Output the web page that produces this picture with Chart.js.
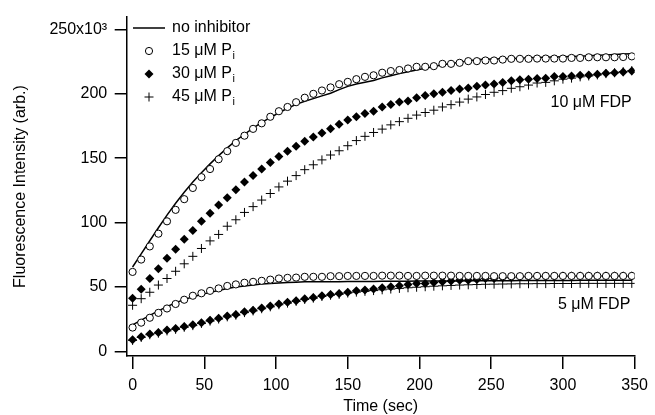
<!DOCTYPE html>
<html>
<head>
<meta charset="utf-8">
<script src="https://cdn.jsdelivr.net/npm/chart.js@4/dist/chart.umd.min.js"></script>
<style>
  body { margin: 0; background: #fff; }
  #wrap { width: 655px; height: 415px; }
</style>
</head>
<body>
<div id="wrap"><canvas id="chart" width="655" height="415"></canvas></div>
<script>
"use strict";

// time points (sec)
var times = [0, 6, 12, 18, 24, 30, 36, 42, 48, 54, 60, 66, 72, 78, 84, 90, 96, 102, 108, 114,
    120, 126, 132, 138, 144, 150, 156, 162, 168, 174, 180, 186, 192, 198, 204, 210, 216, 222, 228, 234,
    240, 246, 252, 258, 264, 270, 276, 282, 288, 294, 300, 306, 312, 318, 324, 330, 336, 342, 348];

// 10 uM FDP (x10^3)
var noInhib10 = [65.5, 75.7, 85.9, 96, 105.8, 115, 123.5, 131.5, 138.8, 145.6, 152, 158, 163.6, 168.6, 173.4,
    177.8, 181.6, 185.3, 188.8, 191.8, 194.2, 196.3, 198.4, 200.5, 203.3, 205.8, 207.6, 209, 210.4, 212.4,
    214.1, 215.7, 217.2, 218.6, 219.9, 221.3, 222.6, 223.6, 224.6, 225.6, 226.6, 226.8, 227, 227.2, 227.4,
    227.7, 228, 228.3, 228.5, 228.7, 228.8, 229, 229.2, 229.5, 229.9, 230.2, 230.6, 230.9, 231.2];
var pi15_10 = [61.7, 71.3, 81.5, 91.4, 101, 109.9, 118.2, 126.9, 135.3, 141.6, 149.2, 155.5, 161.9, 167.5, 172.8,
    177.1, 182.2, 186.5, 189.8, 193.5, 197, 200, 202.6, 205, 207.5, 209.3, 211.4, 213.2, 214.4, 216.4,
    217.7, 218.5, 219.7, 221, 221, 221.5, 223.3, 223.3, 224.1, 225.4, 225.4, 225.9, 225.9, 226.6, 227.2,
    227.2, 227.2, 227.4, 227.4, 227.4, 227.4, 227.9, 227.9, 228.4, 228.4, 228.4, 228.4, 228.6, 229.1];
var pi30_10 = [41.3, 48.2, 56.6, 64.2, 72.3, 79.4, 87, 93.9, 101, 107.3, 113.7, 119.3, 125.6, 131.5, 136.5,
    141.6, 146.7, 151.3, 155.5, 159.3, 163.1, 166.5, 169.5, 172.8, 176.3, 179.7, 182.2, 184.8, 186.5, 189.8,
    191.8, 193.6, 194.4, 196.9, 198.7, 200, 201.2, 202.5, 203.8, 204.6, 205.8, 206.9, 207.6, 208.9, 210.1,
    210.9, 211.4, 211.9, 212.2, 213.4, 213.4, 213.9, 214.4, 214.7, 215.2, 216, 216.4, 217, 217.7];
var pi45_10 = [35.8, 40.9, 45.9, 51.5, 56.6, 62.2, 68, 73.8, 79.9, 85.8, 90.8, 97.2, 102.2, 107.9, 112.4,
    117.5, 122.6, 127.7, 132.2, 136.5, 141.1, 144.9, 148.7, 152.5, 155.8, 159.7, 163.7, 167, 170, 172.6,
    175.9, 178.4, 181, 183.5, 185.5, 187.3, 189.8, 191.6, 193.6, 195.9, 197.6, 199.5, 201.2, 202.5, 204.3,
    205.5, 206.8, 208.4, 208.9, 210.1, 211.4, 212.2, 213.2, 213.9, 214.7, 215.7, 216.4, 217.2, 218];

// 5 uM FDP (x10^3)
var noInhib5 = [20.6, 24.3, 27.9, 31.5, 34.8, 37.8, 40.2, 42.4, 44.2, 45.8, 47.3, 48.8, 50, 50.8, 51.6,
    52.3, 52.8, 53.1, 53.4, 53.7, 54, 54, 54, 54.1, 54.1, 54.2, 54.2, 54.3, 54.3, 54.4,
    54.4, 54.5, 54.5, 54.6, 54.6, 54.6, 54.7, 54.7, 54.7, 54.8, 54.8, 54.8, 54.9, 54.9, 54.9,
    55, 55, 55, 55, 55.1, 55.1, 55.1, 55.2, 55.2, 55.2, 55.3, 55.3, 55.3, 55.3];
var pi15_5 = [18.5, 22.3, 26.1, 29.9, 33.3, 36.8, 40.1, 43.2, 45.1, 47, 48.9, 50.8, 52, 53.3, 54,
    54.8, 55.7, 56.6, 57.1, 57.3, 57.9, 57.9, 57.9, 58.4, 58.4, 58.6, 58.6, 58.6, 58.6, 58.8,
    58.8, 58.8, 58.6, 58.6, 58.8, 58.8, 58.8, 58.8, 58.6, 58.6, 58.6, 58.6, 58.4, 58.4, 58.4,
    58.4, 58.6, 58.6, 58.6, 58.6, 58.6, 58.6, 58.6, 58.6, 58.6, 58.6, 58.6, 58.6, 58.6];
var pi30_5 = [9.1, 11.4, 13.5, 14.7, 16.5, 17.7, 19.3, 20.6, 22.3, 24.1, 25.7, 27.4, 28.7, 30.7, 32,
    33.7, 35.2, 36.8, 38.1, 39.4, 40.9, 41.9, 43.2, 44.2, 44.9, 46, 47, 47.7, 48.5, 49.5,
    50.2, 51, 52, 52.8, 52.8, 53.5, 54, 54.6, 55.3, 55.3, 55.8, 56.6, 56.6, 57.1, 57.3,
    57.9, 57.9, 58.4, 58.4, 58.4, 58.6, 58.6, 58.6, 58.6, 58.6, 58.6, 58.6, 58.6, 58.6];
var pi45_5 = [8.5, 10.8, 12.9, 14.1, 15.9, 17.1, 18.7, 20, 21.7, 23.5, 25.1, 26.8, 28.1, 30.1, 31.4,
    33.1, 34.6, 36.2, 37.5, 38.8, 40.3, 41.3, 42.6, 43.6, 44.3, 45.3, 46, 46.6, 47.2, 47.8,
    48.4, 48.9, 49.4, 49.8, 50.2, 50.6, 50.9, 51.2, 51.5, 51.7, 51.9, 52.1, 52.2, 52.3, 52.4,
    52.5, 52.5, 52.6, 52.6, 52.7, 52.7, 52.7, 52.8, 52.8, 52.8, 52.8, 52.8, 52.8, 52.8];

var xTicks = [0, 50, 100, 150, 200, 250, 300, 350];
var yTicks = [0, 50, 100, 150, 200, 250];
var legendLabels = ["no inhibitor", "15 \u03bcM P", "30 \u03bcM P", "45 \u03bcM P"];
var curveLabels = [{ text: "10 \u03bcM FDP", x: 348, y: 193.4 }, { text: "5 \u03bcM FDP", x: 347, y: 36.5 }];

var FONT = "'Liberation Sans', Arial, Helvetica, sans-serif";

function xy(values) {
    return values.map(function (v, i) { return { x: times[i], y: v }; });
}

function lineSet(values) {
    return { data: xy(values), showLine: true, borderColor: "#000", borderWidth: 1.5, pointRadius: 0, fill: false, tension: 0 };
}
function circleSet(values) {
    return { data: xy(values), showLine: false, pointStyle: "circle", pointRadius: 3.6,
        pointBorderWidth: 1, pointBorderColor: "#000", pointBackgroundColor: "#fff" };
}
function diamondSet(values) {
    return { data: xy(values), showLine: false, pointStyle: "rectRot", pointRadius: 4.5,
        pointBorderWidth: 0, pointBorderColor: "#000", pointBackgroundColor: "#000" };
}
function plusSet(values) {
    return { data: xy(values), showLine: false, pointStyle: "cross", pointRadius: 4.5,
        pointBorderWidth: 1, pointBorderColor: "#000", pointBackgroundColor: "#000" };
}

function drawMarker(ctx, style, x, y) {
    ctx.save();
    ctx.strokeStyle = "#000";
    ctx.fillStyle = "#000";
    ctx.lineWidth = 1;
    ctx.beginPath();
    if (style === "circle") {
        ctx.fillStyle = "#fff";
        ctx.arc(x, y, 3.6, 0, Math.PI * 2);
        ctx.fill();
        ctx.stroke();
    } else if (style === "diamond") {
        ctx.moveTo(x, y - 4.5);
        ctx.lineTo(x + 4.5, y);
        ctx.lineTo(x, y + 4.5);
        ctx.lineTo(x - 4.5, y);
        ctx.closePath();
        ctx.fill();
    } else if (style === "plus") {
        ctx.moveTo(x - 4.5, y);
        ctx.lineTo(x + 4.5, y);
        ctx.moveTo(x, y - 4.5);
        ctx.lineTo(x, y + 4.5);
        ctx.stroke();
    }
    ctx.restore();
}

// legend box and curve labels drawn on top
var overlayPlugin = {
    id: "overlay",
    afterDraw: function (chart) {
        var ctx = chart.ctx;
        var rows = [28, 51, 74, 97];
        ctx.save();
        ctx.fillStyle = "#000";
        ctx.textBaseline = "middle";
        ctx.textAlign = "left";
        ctx.font = "16px " + FONT;

        ctx.strokeStyle = "#000";
        ctx.lineWidth = 1.5;
        ctx.beginPath();
        ctx.moveTo(133, rows[0]);
        ctx.lineTo(165, rows[0]);
        ctx.stroke();
        ctx.fillText(legendLabels[0], 172, rows[0]);

        var styles = ["circle", "diamond", "plus"];
        for (var i = 1; i < 4; i++) {
            drawMarker(ctx, styles[i - 1], 149, rows[i]);
            ctx.font = "16px " + FONT;
            ctx.fillText(legendLabels[i], 172, rows[i]);
            var w = ctx.measureText(legendLabels[i]).width;
            ctx.font = "11px " + FONT;
            ctx.fillText("i", 172 + w + 0.5, rows[i] + 5);
        }

        ctx.font = "16px " + FONT;
        ctx.textAlign = "right";
        var xs = chart.scales.x, ys = chart.scales.y;
        curveLabels.forEach(function (c) {
            ctx.fillText(c.text, xs.getPixelForValue(c.x), ys.getPixelForValue(c.y));
        });
        ctx.restore();
    }
};

var axisCommon = {
    grid: { drawOnChartArea: false, drawTicks: true, color: "#000", tickColor: "#000", lineWidth: 1.5 },
    border: { display: true, color: "#000", width: 1.5 }
};

new Chart(document.getElementById("chart"), {
    type: "scatter",
    data: {
        datasets: [
            circleSet(pi15_10), diamondSet(pi30_10), plusSet(pi45_10), lineSet(noInhib10),
            circleSet(pi15_5), diamondSet(pi30_5), plusSet(pi45_5), lineSet(noInhib5)
        ]
    },
    options: {
        responsive: false,
        animation: false,
        events: [],
        layout: { padding: { left: 0, top: 10.7, right: 15.7, bottom: 0 } },
        plugins: { legend: { display: false }, tooltip: { enabled: false } },
        scales: {
            x: {
                type: "linear",
                min: -4.1,
                max: 350,
                afterBuildTicks: function (s) { s.ticks = xTicks.map(function (v) { return { value: v }; }); },
                afterFit: function (s) { s.height = 59; },
                ticks: { color: "#000", font: { family: FONT, size: 16 }, padding: 7, maxRotation: 0, autoSkip: false },
                grid: Object.assign({}, axisCommon.grid, { tickLength: 13 }),
                border: axisCommon.border,
                title: { display: true, text: "Time (sec)", color: "#000", font: { family: FONT, size: 16 }, padding: { top: 0, bottom: -1.5 } }
            },
            y: {
                type: "linear",
                min: -3.6,
                max: 259.6,
                afterBuildTicks: function (s) { s.ticks = yTicks.map(function (v) { return { value: v }; }); },
                afterFit: function (s) { s.width = 126.7; },
                ticks: {
                    color: "#000", font: { family: FONT, size: 16 }, padding: 7.5, autoSkip: false,
                    callback: function (v) { return v === 250 ? "250x10\u00b3" : String(v); }
                },
                grid: Object.assign({}, axisCommon.grid, { tickLength: 12 }),
                border: axisCommon.border,
                title: { display: true, text: "Fluorescence Intensity (arb.)", color: "#000", font: { family: FONT, size: 16 }, padding: { top: 11, bottom: 0 } }
            }
        }
    },
    plugins: [overlayPlugin]
});
</script>
</body>
</html>
